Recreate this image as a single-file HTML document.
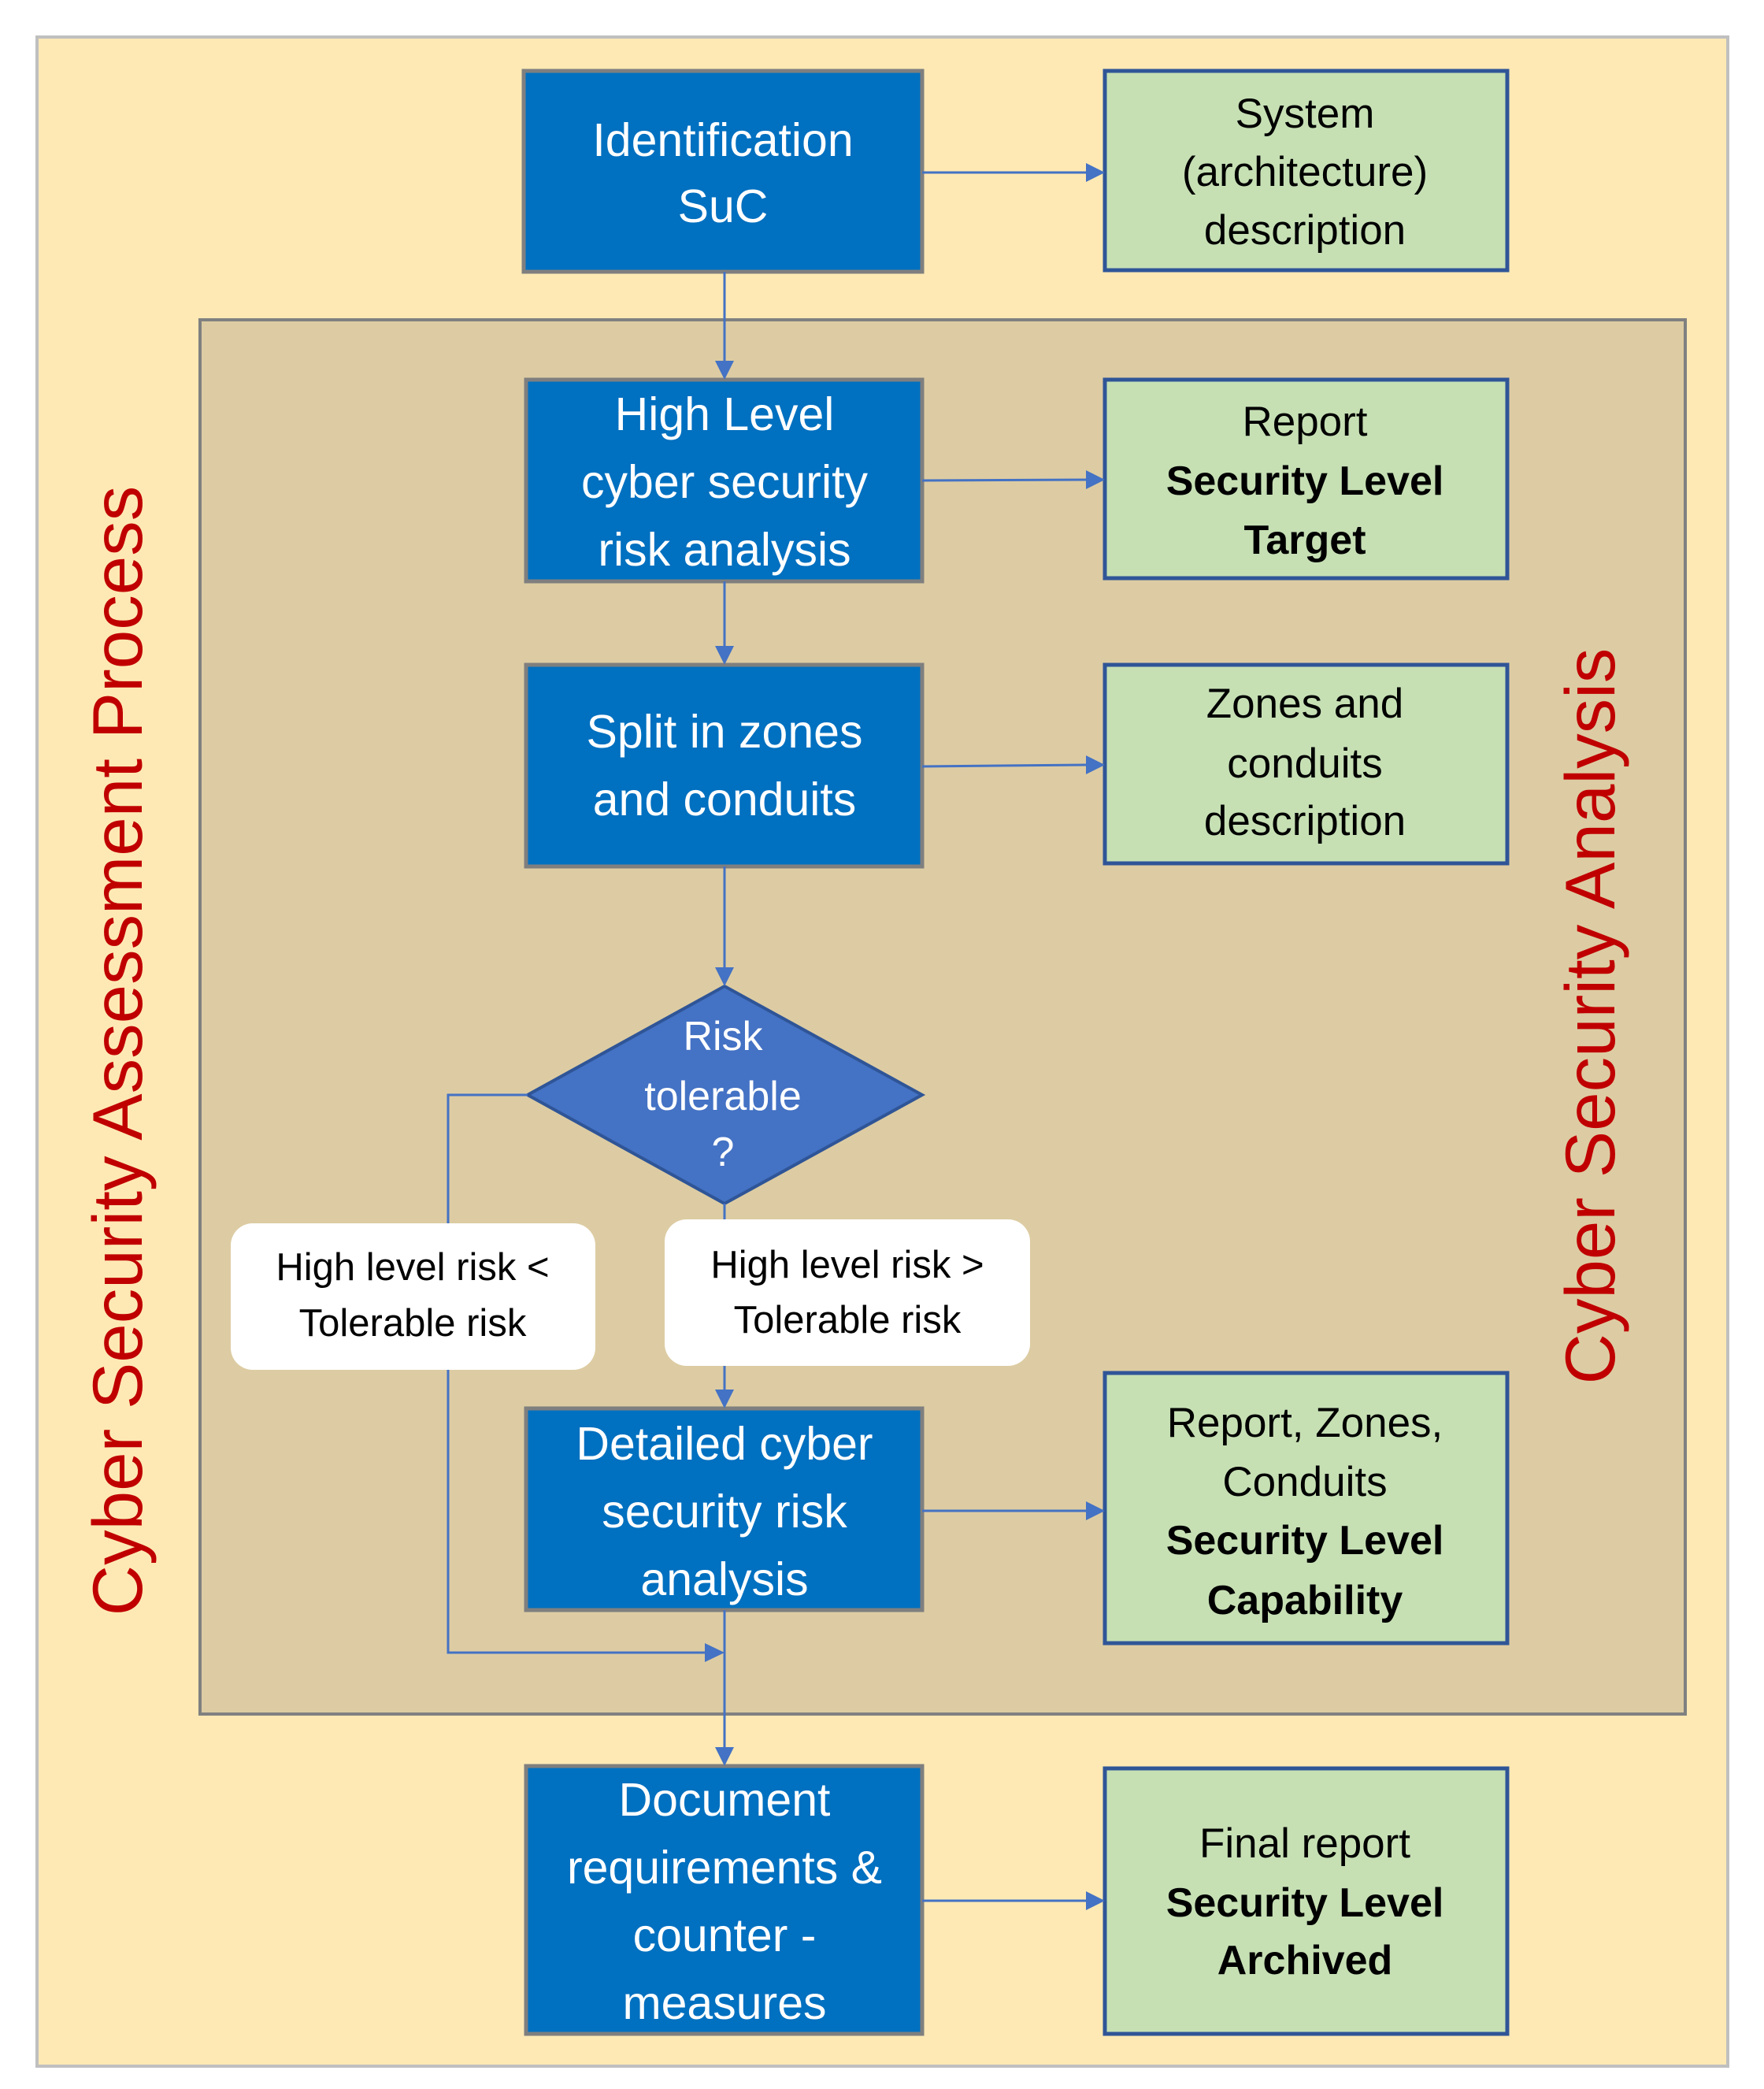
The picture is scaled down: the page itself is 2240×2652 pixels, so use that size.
<!DOCTYPE html>
<html><head><meta charset="utf-8"><style>
html,body{margin:0;padding:0;background:#fff}
svg{display:block}
text{font-family:"Liberation Sans",sans-serif}
</style></head><body>
<svg width="2240" height="2652" viewBox="0 0 2240 2652" xmlns="http://www.w3.org/2000/svg">
<rect x="47" y="47" width="2147" height="2576" fill="#fee9b4" stroke="#bfbfbf" stroke-width="4"/>
<rect x="254" y="406" width="1886" height="1770" fill="#ddcca3" stroke="#808080" stroke-width="4"/>
<g fill="#0070c0" stroke="#7f7f7f" stroke-width="5">
<rect x="665" y="90" width="506" height="255"/>
<rect x="668" y="482" width="503" height="256"/>
<rect x="668" y="844" width="503" height="256"/>
<rect x="668" y="1788" width="503" height="256"/>
<rect x="668" y="2242" width="503" height="340"/>
</g>
<g fill="#c6e0b4" stroke="#2f5597" stroke-width="5">
<rect x="1403" y="90" width="511" height="253"/>
<rect x="1403" y="482" width="511" height="252"/>
<rect x="1403" y="844" width="511" height="252"/>
<rect x="1403" y="1743" width="511" height="343"/>
<rect x="1403" y="2245" width="511" height="337"/>
</g>
<polygon points="920,1252 1171,1390 920,1528 670,1390" fill="#4472c4" stroke="#2f5597" stroke-width="4"/>
<g stroke="#4472c4" stroke-width="3" fill="none">
<line x1="920" y1="345" x2="920" y2="460"/>
<line x1="920" y1="738" x2="920" y2="822"/>
<line x1="920" y1="1100" x2="920" y2="1230"/>
<line x1="920" y1="1528" x2="920" y2="1766"/>
<line x1="920" y1="2044" x2="920" y2="2220"/>
<polyline points="670,1390 569,1390 569,2098 897,2098"/>
<line x1="1171" y1="219" x2="1381" y2="219"/>
<line x1="1171" y1="610" x2="1381" y2="609"/>
<line x1="1171" y1="973" x2="1381" y2="971"/>
<line x1="1171" y1="1918" x2="1381" y2="1918"/>
<line x1="1171" y1="2413" x2="1381" y2="2413"/>
</g>
<rect x="293" y="1553" width="463" height="186" rx="28" fill="#fff"/>
<rect x="844" y="1548" width="464" height="186" rx="28" fill="#fff"/>
<g fill="#4472c4">
<polygon points="908,458 932,458 920,482"/>
<polygon points="908,820 932,820 920,844"/>
<polygon points="908,1228 932,1228 920,1252"/>
<polygon points="908,1764 932,1764 920,1788"/>
<polygon points="908,2218 932,2218 920,2242"/>
<polygon points="895,2086 895,2110 920,2098"/>
<polygon points="1379,207 1379,231 1403,219"/>
<polygon points="1379,597 1379,621 1403,609"/>
<polygon points="1379,959 1379,983 1403,971"/>
<polygon points="1379,1906 1379,1930 1403,1918"/>
<polygon points="1379,2401 1379,2425 1403,2413"/>
</g>
<g fill="#fff" font-size="59" text-anchor="middle">
<text x="918" y="198">Identification</text>
<text x="918" y="282">SuC</text>
<text x="920" y="546">High Level</text>
<text x="920" y="632">cyber security</text>
<text x="920" y="718">risk analysis</text>
<text x="920" y="949">Split in zones</text>
<text x="920" y="1035">and conduits</text>
<text x="920" y="1853">Detailed cyber</text>
<text x="920" y="1939">security risk</text>
<text x="920" y="2025">analysis</text>
<text x="920" y="2305">Document</text>
<text x="920" y="2391">requirements &amp;</text>
<text x="920" y="2477">counter -</text>
<text x="920" y="2563">measures</text>
</g>
<g fill="#fff" font-size="52" text-anchor="middle">
<text x="918" y="1333">Risk</text>
<text x="918" y="1409">tolerable</text>
<text x="918" y="1480">?</text>
</g>
<g fill="#000" font-size="53" text-anchor="middle">
<text x="1657" y="162">System</text>
<text x="1657" y="236">(architecture)</text>
<text x="1657" y="310">description</text>
<text x="1657" y="553">Report</text>
<text x="1657" y="628" font-weight="bold" font-size="52">Security Level</text>
<text x="1657" y="703" font-weight="bold" font-size="52">Target</text>
<text x="1657" y="911">Zones and</text>
<text x="1657" y="987">conduits</text>
<text x="1657" y="1060">description</text>
<text x="1657" y="1824">Report, Zones,</text>
<text x="1657" y="1899">Conduits</text>
<text x="1657" y="1973" font-weight="bold" font-size="52">Security Level</text>
<text x="1657" y="2049" font-weight="bold" font-size="52">Capability</text>
<text x="1657" y="2358">Final report</text>
<text x="1657" y="2433" font-weight="bold" font-size="52">Security Level</text>
<text x="1657" y="2506" font-weight="bold" font-size="52">Archived</text>
</g>
<g fill="#000" font-size="49" text-anchor="middle">
<text x="524" y="1625">High level risk &lt;</text>
<text x="524" y="1696">Tolerable risk</text>
<text x="1076" y="1622">High level risk &gt;</text>
<text x="1076" y="1692">Tolerable risk</text>
</g>
<g fill="#c00000" text-anchor="middle">
<text transform="translate(180,1334) rotate(-90)" font-size="89">Cyber Security Assessment Process</text>
<text transform="translate(2050,1290) rotate(-90)" font-size="89">Cyber Security Analysis</text>
</g>
</svg>
</body></html>
